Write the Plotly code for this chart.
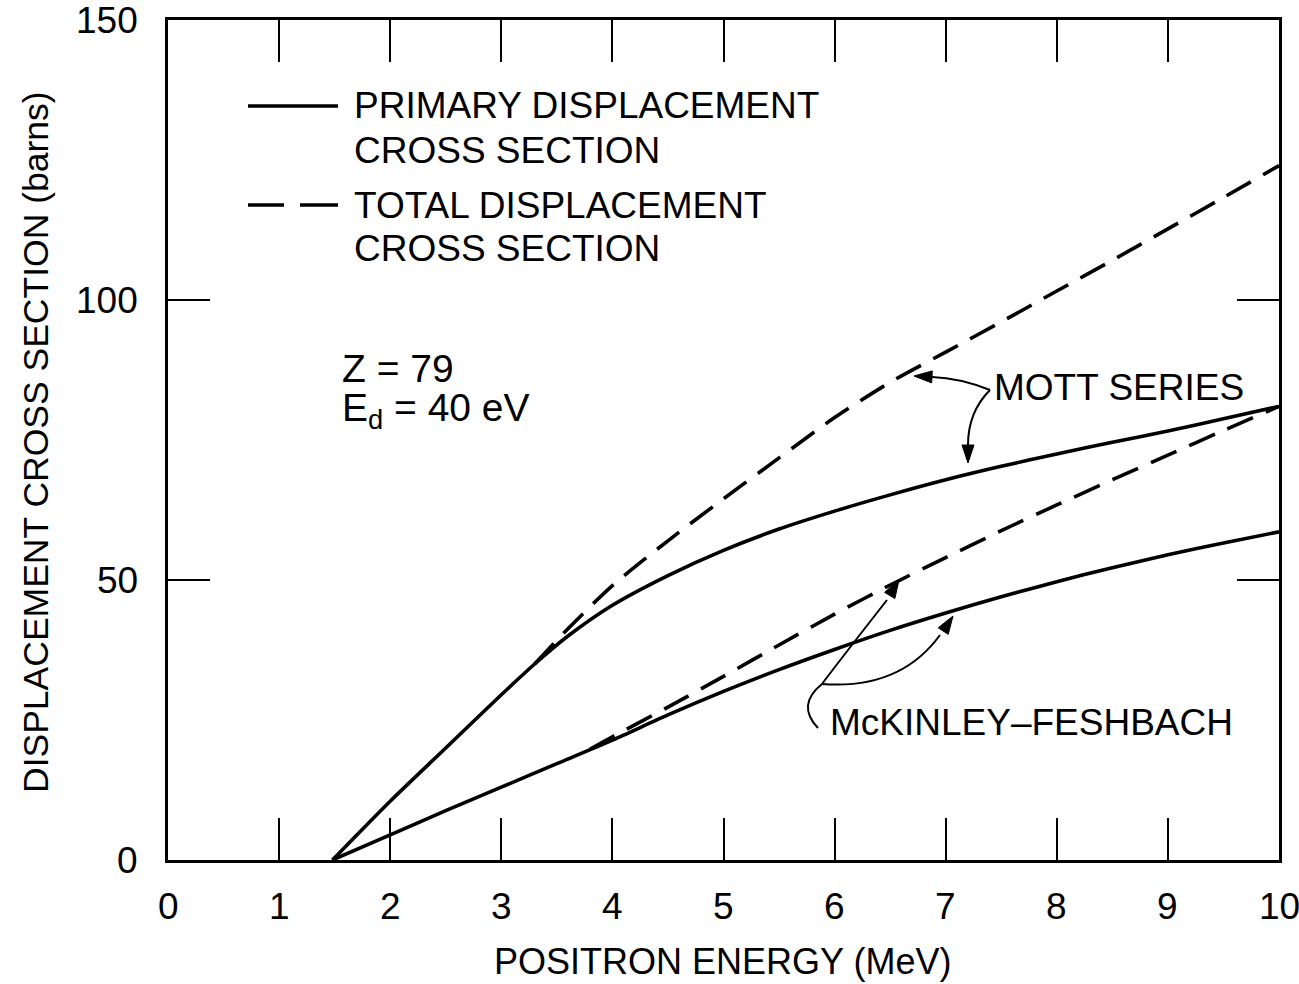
import math
import plotly.graph_objects as go

# ---- data ----
mott_primary_E = [1.48, 2.0, 2.5, 3.0, 3.3, 3.6, 4.0, 4.5, 5.0, 5.5, 6.0, 6.5, 7.0, 7.5, 8.0, 8.5, 9.0, 9.5, 10.0]
mott_primary_sigma = [0.0, 10.5, 20.0, 29.5, 35.0, 40.0, 45.5, 50.8, 55.3, 59.1, 62.3, 65.2, 67.9, 70.3, 72.5, 74.6, 76.6, 78.8, 81.0]

mott_total_E = [3.3, 3.6, 4.0, 4.5, 5.0, 5.5, 6.0, 6.5, 7.0, 7.5, 8.0, 8.5, 9.0, 9.5, 10.0]
mott_total_sigma = [35.0, 41.3, 49.0, 57.0, 64.5, 71.8, 79.0, 85.3, 90.7, 96.1, 101.6, 107.1, 112.7, 118.3, 124.0]

mf_primary_E = [1.48, 2.0, 2.5, 3.0, 3.5, 4.0, 4.5, 5.0, 5.5, 6.0, 6.5, 7.0, 7.5, 8.0, 8.5, 9.0, 9.5, 10.0]
mf_primary_sigma = [0.0, 4.5, 8.8, 13.0, 17.2, 21.4, 25.9, 30.1, 34.0, 37.6, 41.0, 44.1, 47.0, 49.7, 52.2, 54.5, 56.6, 58.6]

mf_total_E = [3.8, 4.0, 4.5, 5.0, 5.5, 6.0, 6.5, 7.0, 7.5, 8.0, 8.5, 9.0, 9.5, 10.0]
mf_total_sigma = [19.8, 22.0, 27.3, 32.8, 38.4, 43.9, 49.1, 54.0, 58.8, 63.4, 67.9, 72.3, 76.7, 81.0]

x_ticks = [0, 1, 2, 3, 4, 5, 6, 7, 8, 9, 10]
x_tick_labels = ["0", "1", "2", "3", "4", "5", "6", "7", "8", "9", "10"]
y_ticks = [0, 50, 100, 150]
y_tick_labels = ["0", "50", "100", "150"]

FONT = "Liberation Sans"
BLACK = "#000000"
LW = 3.6
DASH = "28px,14px"

# layout geometry (pixels)
W, H = 1299, 984
L, R, T, B = 168, 20, 20, 124
PW, PH = W - L - R, H - T - B


def px2paper(px, py):
    return (px - L) / PW, (H - B - py) / PH


fig = go.Figure()
for xs, ys, dash in [
    (mott_primary_E, mott_primary_sigma, "solid"),
    (mott_total_E, mott_total_sigma, DASH),
    (mf_primary_E, mf_primary_sigma, "solid"),
    (mf_total_E, mf_total_sigma, DASH),
]:
    fig.add_trace(go.Scatter(x=xs, y=ys, mode="lines",
                             line=dict(color=BLACK, width=LW, dash=dash, shape="spline", smoothing=0.8),
                             showlegend=False, hoverinfo="skip"))

annotations = []
shapes = []


def text(px, py, s, size=36, xanchor="left", angle=0, yanchor="middle", family=FONT):
    x, y = px2paper(px, py)
    annotations.append(dict(x=x, y=y, xref="paper", yref="paper", text=s, showarrow=False,
                            xanchor=xanchor, yanchor=yanchor, textangle=angle,
                            font=dict(family=family, size=size, color=BLACK)))


def curve(points, width=2):
    pts = [px2paper(*p) for p in points]
    d = "M {} {}".format(*pts[0])
    rest = pts[1:]
    for i in range(0, len(rest), 2):
        d += " Q {} {} {} {}".format(rest[i][0], rest[i][1], rest[i + 1][0], rest[i + 1][1])
    shapes.append(dict(type="path", path=d, xref="paper", yref="paper", line=dict(color=BLACK, width=width)))


def arrowhead(tipx, tipy, fromx, fromy, length=18, half=6):
    dx, dy = tipx - fromx, tipy - fromy
    n = math.hypot(dx, dy)
    ux, uy = dx / n, dy / n
    bx, by = tipx - ux * length, tipy - uy * length
    p1 = (bx - uy * half, by + ux * half)
    p2 = (bx + uy * half, by - ux * half)
    pts = [px2paper(tipx, tipy), px2paper(*p1), px2paper(*p2)]
    d = "M {} {} L {} {} L {} {} Z".format(*pts[0], *pts[1], *pts[2])
    shapes.append(dict(type="path", path=d, xref="paper", yref="paper",
                       line=dict(color=BLACK, width=1), fillcolor=BLACK))


# legend samples
for (x0, x1, y) in [(248, 338, 106), (248, 284, 205), (300, 338, 205)]:
    a, b = px2paper(x0, y), px2paper(x1, y)
    shapes.append(dict(type="line", xref="paper", yref="paper", x0=a[0], y0=a[1], x1=b[0], y1=b[1],
                       line=dict(color=BLACK, width=LW)))
text(352, 106, "PRIMARY DISPLACEMENT", 37)
text(352, 150, "CROSS SECTION", 37)
text(352, 205, "TOTAL DISPLACEMENT", 37)
text(352, 248, "CROSS SECTION", 37)

text(340, 368, "Z = 79", 39)
text(340, 410, "E<sub>d</sub> = 40 eV", 39)

text(992, 387, "MOTT SERIES", 37)
text(828, 722, "McKINLEY–FESHBACH", 37)

# MOTT arrows
curve([(990, 390), (960, 378), (932, 377)])
arrowhead(914, 376, 934, 377)
curve([(990, 390), (968, 412), (968, 445)])
arrowhead(968, 463, 968, 444)

# McKinley arrows
curve([(818, 728), (796, 705), (822, 684)])
curve([(822, 684), (840, 660), (887, 600)])
arrowhead(899, 580, 887, 600)
curve([(822, 684), (900, 690), (940, 635)])
arrowhead(953, 616, 940, 636)

# tick labels (from the tick arrays)
for v, lab in zip(x_ticks, x_tick_labels):
    annotations.append(dict(x=v, y=px2paper(0, 906)[1], xref="x", yref="paper", text=lab, showarrow=False,
                            xanchor="center", yanchor="middle", font=dict(family=FONT, size=37, color=BLACK)))
for v, lab in zip(y_ticks, y_tick_labels):
    annotations.append(dict(x=px2paper(140, 0)[0], y=v, xref="paper", yref="y", text=lab, showarrow=False,
                            xanchor="right", yanchor="middle", font=dict(family=FONT, size=37, color=BLACK)))

# axis titles
text(722, 984, "POSITRON ENERGY (MeV)", 36, xanchor="center", yanchor="bottom")
text(36, 442, "DISPLACEMENT CROSS SECTION (barns)", 35.5, xanchor="center", angle=-90)

axis_common = dict(showline=True, linecolor=BLACK, linewidth=2.5, mirror="ticks", ticks="inside",
                   tickcolor=BLACK, tickwidth=2, ticklen=42, showgrid=False, zeroline=False,
                   showticklabels=False)

fig.update_layout(
    width=W, height=H, margin=dict(l=L, r=R, t=T, b=B),
    paper_bgcolor="white", plot_bgcolor="white",
    xaxis=dict(range=[0, 10], tickvals=x_ticks, **axis_common),
    yaxis=dict(range=[0, 150], tickvals=y_ticks, **axis_common),
    annotations=annotations, shapes=shapes, showlegend=False,
)

fig.write_html("out.html")
